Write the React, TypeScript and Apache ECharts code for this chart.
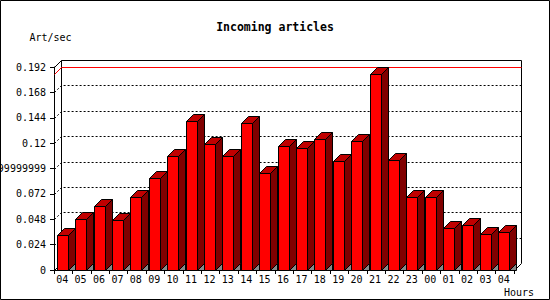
import React, { useEffect, useRef } from "react";
import * as echarts from "echarts";

// ---- data ----
const hours = ["04", "05", "06", "07", "08", "09", "10", "11", "12", "13", "14", "15", "16", "17", "18", "19", "20", "21", "22", "23", "00", "01", "02", "03", "04"];
const artPerSec = [0.033, 0.048, 0.0605, 0.047, 0.069, 0.087, 0.1075, 0.141, 0.119, 0.1075, 0.139, 0.0915, 0.1173, 0.115, 0.1236, 0.103, 0.122, 0.185, 0.104, 0.069, 0.069, 0.0394, 0.0426, 0.034, 0.036];
const yTickLabels = ["0", "0.024", "0.048", "0.072", "0.09599999999999999", "0.12", "0.144", "0.168", "0.192"];
const yMin = 0;
const yMax = 0.192;
const yStep = 0.024;

// ---- layout / style ----
const L = 54, T = 67, W = 460, H = 203, D = 7;
const FONT = "DejaVu Sans Mono";

export default function App() {
  const ref = useRef<HTMLDivElement>(null);
  useEffect(() => {
    document.body.style.margin = "0";
    const chart = echarts.init(ref.current!, null, { renderer: "svg" });
    const maxVal = Math.max(...artPerSec);
    const gridValues = yTickLabels.map(Number).filter((v) => v > yMin && v < yMax);
    const gridData = gridValues.map((v) => [0, v, 0]).concat([[0, maxVal, 1]]);
    const c = (n: number) => Math.round(n) + 0.5;

    chart.setOption({
      animation: false,
      textStyle: { fontFamily: FONT },
      title: {
        text: "Incoming articles",
        left: "center",
        top: 16,
        textStyle: { fontFamily: FONT, fontWeight: "bold", fontSize: 11.5, color: "#000" },
      },
      grid: { left: L, top: T, width: W, height: H, containLabel: false, outerBoundsMode: "none" },
      xAxis: {
        type: "category",
        data: hours,
        boundaryGap: true,
        name: "Hours",
        nameLocation: "end",
        nameGap: 20,
        nameTextStyle: { fontFamily: FONT, fontSize: 10, color: "#000", align: "right", verticalAlign: "top", padding: [17, 0, 0, 0] },
        axisLine: { show: true, lineStyle: { color: "#000", width: 1 } },
        axisTick: { show: true, length: 4, interval: 0, lineStyle: { color: "#000" } },
        axisLabel: { interval: 0, margin: 4, fontFamily: FONT, fontSize: 10, color: "#000", padding: [0, 2, 0, 0] },
        splitLine: { show: false },
      },
      yAxis: {
        type: "value",
        min: yMin,
        max: yMax,
        interval: yStep,
        name: "Art/sec",
        nameLocation: "end",
        nameGap: 30,
        nameTextStyle: { fontFamily: FONT, fontSize: 10, color: "#000", align: "center", verticalAlign: "middle", padding: [0, 7, 0, 0] },
        axisLine: { show: true, lineStyle: { color: "#000", width: 1 } },
        axisTick: { show: true, length: 4, lineStyle: { color: "#000" } },
        axisLabel: {
          margin: 8,
          fontFamily: FONT,
          fontSize: 10,
          color: "#000",
          formatter: (val: number, idx: number) => yTickLabels[idx] ?? String(val),
        },
        splitLine: { show: false },
      },
      graphic: [
        { type: "rect", z: 100, shape: { x: 0.5, y: 0.5, width: 549, height: 299 }, style: { fill: "none", stroke: "#000", lineWidth: 1 } },
        { type: "polyline", z: 1, shape: { points: [[c(L + D), c(T + H - D)], [c(L + D), c(T - D)], [c(L + W + D), c(T - D)], [c(L + W + D), c(T + H - D)]] }, style: { fill: "none", stroke: "#000", lineWidth: 1 } },
        { type: "line", z: 1, shape: { x1: c(L), y1: c(T), x2: c(L + D), y2: c(T - D) }, style: { stroke: "#000", lineWidth: 1 } },
        { type: "line", z: 1, shape: { x1: c(L), y1: c(T + H), x2: c(L + D), y2: c(T + H - D) }, style: { stroke: "#000", lineWidth: 1 } },
        { type: "line", z: 1, shape: { x1: c(L + W), y1: c(T + H), x2: c(L + W + D), y2: c(T + H - D) }, style: { stroke: "#000", lineWidth: 1 } },
      ],
      series: [
        {
          type: "custom",
          name: "gridlines",
          z: 1,
          clip: false,
          silent: true,
          encode: { x: 0, y: 1 },
          data: gridData,
          renderItem: (params: any, api: any) => {
            const v = api.value(1);
            const isMax = api.value(2) === 1;
            const cs = params.coordSys;
            const y = c(api.coord([0, v])[1]);
            const x0 = c(cs.x);
            return {
              type: "polyline",
              shape: { points: [[x0, y], [x0 + D, y - D], [x0 + D + cs.width, y - D]] },
              style: isMax
                ? { fill: "none", stroke: "#FF0000", lineWidth: 1 }
                : { fill: "none", stroke: "#000", lineWidth: 1, lineDash: [2, 2] },
            };
          },
        },
        {
          type: "custom",
          name: "Art/sec",
          z: 5,
          clip: false,
          encode: { x: 0, y: 1 },
          data: artPerSec.map((v, i) => [i, v]),
          renderItem: (params: any, api: any) => {
            const i = api.value(0);
            const v = api.value(1);
            const top = api.coord([i, v]);
            const base = api.coord([i, 0]);
            const bw = api.size([1, 0])[0];
            const start = top[0] - bw / 2;
            const xl = c(start + bw * 0.15);
            const xr = c(start + bw * 0.75);
            const yt = c(top[1]);
            const y0 = c(base[1]);
            return {
              type: "group",
              children: [
                { type: "polygon", shape: { points: [[xr, y0], [xr + D, y0 - D], [xr + D, y0]] }, style: { fill: "#888888", stroke: "#000", lineWidth: 1 } },
                { type: "polygon", shape: { points: [[xr, yt], [xr + D, yt - D], [xr + D, y0 - D], [xr, y0]] }, style: { fill: "#800000", stroke: "#000", lineWidth: 1 } },
                { type: "polygon", shape: { points: [[xl, yt], [xl + D, yt - D], [xr + D, yt - D], [xr, yt]] }, style: { fill: "#C00000", stroke: "#000", lineWidth: 1 } },
                { type: "rect", shape: { x: xl, y: yt, width: xr - xl, height: y0 - yt }, style: { fill: "#FF0000", stroke: "#000", lineWidth: 1 } },
              ],
            };
          },
        },
      ],
    });
    return () => chart.dispose();
  }, []);
  return <div ref={ref} style={{ width: 550, height: 300 }} />;
}
